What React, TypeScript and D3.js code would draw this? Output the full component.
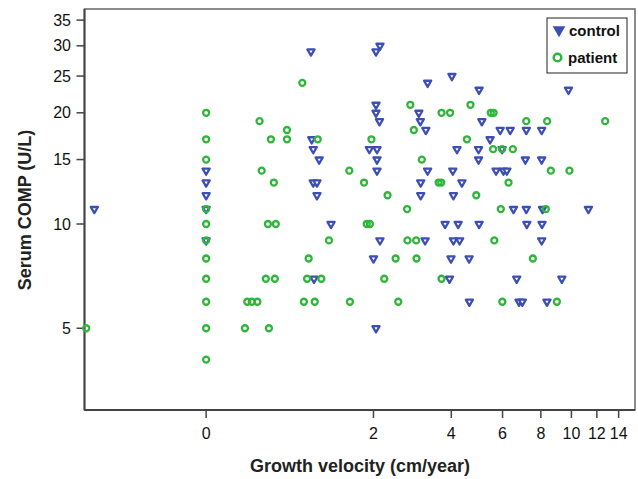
import React, { useEffect } from 'react'
import * as d3 from 'd3'

// growth velocity (cm/year) and serum COMP (U/L)
const controlVelocity = [
  -0.52, 0, 0, 0, 0, 0, 0.99, 1.0, 1.02, 1.1, 1.02, 1.07, 1.07, 1.27, 1.03,
  2.13, 2.05, 3.28, 4.02, 5.0, 2.05, 2.05, 2.12, 3.04, 3.08, 3.23, 1.92, 2.07,
  4.19, 4.98, 2.07, 4.98, 2.07, 3.28, 4.05, 3.09, 4.36, 3.09, 4.07, 9.79, 5.11,
  5.89, 6.36, 7.18, 8.05, 5.45, 5.98, 7.13, 8.05, 5.71, 6.04, 6.2, 6.52, 7.18,
  8.1, 11.3, 3.8, 4.23, 5.0, 7.21, 8.07, 2.13, 3.21, 4.07, 4.28, 8.05, 2.0,
  3.99, 4.62, 3.94, 6.68, 9.33, 4.63, 6.8, 6.97, 8.37, 2.05,
]
const controlComp = [
  11, 14, 13, 12, 11, 9, 29, 17, 16, 15, 13, 13, 12, 10, 7,
  30, 29, 24, 25, 23, 21, 20, 19, 20, 19, 18, 16, 16,
  16, 16, 15, 15, 14, 14, 14, 13, 13, 12, 12, 23, 19,
  18, 18, 18, 18, 17, 16, 15, 15, 14, 14, 14, 11, 11,
  11, 11, 10, 10, 10, 10, 10, 9, 9, 9, 9, 9, 8,
  8, 8, 7, 7, 7, 6, 6, 6, 6, 5,
]

const patientVelocity = [
  -0.545, 0, 0, 0, 0, 0, 0, 0, 0, 0, 0, 0, 0.88, 0.42, 0.7, 0.53, 0.7, 1.08,
  0.44, 0.56, 2.82, 3.69, 3.96, 4.67, 2.91, 1.96, 4.54, 3.12, 1.56, 1.82, 3.6,
  3.68, 2.29, 4.89, 5.48, 5.6, 7.18, 8.38, 12.73, 5.58, 5.98, 6.49, 8.61, 9.86,
  6.28, 0.5, 0.58, 1.24, 0.96, 0.48, 0.57, 0.94, 1.13, 0.31, 0.35, 0.4, 0.9,
  1.04, 0.29, 0.51, 2.74, 1.87, 1.93, 2.75, 2.97, 2.47, 2.98, 2.22, 3.69, 1.57,
  2.53, 5.92, 8.3, 5.63, 7.54, 5.99, 9.0,
]
const patientComp = [
  5, 20, 17, 15, 11, 10, 9, 8, 7, 6, 5, 4, 24, 19, 18, 17, 17, 17,
  14, 13, 21, 20, 20, 21, 18, 17, 17, 15, 14, 13, 13,
  13, 12, 12, 20, 20, 19, 19, 19, 16, 16, 16, 14, 14,
  13, 10, 10, 9, 8, 7, 7, 7, 7, 6, 6, 6, 6,
  6, 5, 5, 11, 10, 10, 9, 9, 8, 8, 7, 7, 6,
  6, 11, 11, 9, 8, 6, 6,
]

const xTicks = [0, 2, 4, 6, 8, 10, 12, 14]
const yTicks = [5, 10, 15, 20, 25, 30, 35]

const blue = '#3d4fb4'
const green = '#2fb53a'
const font = 'Arial, "Liberation Sans", sans-serif'

const App = () => {
  useEffect(() => {
    document.body.style.margin = '0'
  }, [])

  // both axes are log(v + 1)
  const x = d3.scaleLog().domain([0.45, 16.7]).range([84.5, 635])
  const y = d3.scaleLog().domain([3.73, 38.4]).range([410, 9])
  const px = (v: number) => x(v + 1)
  const py = (v: number) => y(v + 1)

  const tri = d3.symbol().type(d3.symbolTriangle).size(22)()
  const legendTri = d3.symbol().type(d3.symbolTriangle).size(70)()

  return (
    <svg width={638} height={479} style={{ display: 'block', background: '#fff' }}>
      {/* frame */}
      <rect x={84.5} y={9} width={550.5} height={401} fill="none" stroke="#666" strokeWidth={1.5} />
      <line x1={84.5} x2={84.5} y1={9} y2={410} stroke="#444" strokeWidth={2} />
      <line x1={84.5} x2={635} y1={410} y2={410} stroke="#444" strokeWidth={2} />

      {/* y axis */}
      {yTicks.map((t) => (
        <g key={t} transform={`translate(0,${py(t)})`}>
          <line x1={76.5} x2={84.5} stroke="#444" strokeWidth={1.5} />
          <text x={71} dy="0.35em" textAnchor="end" fontSize={16} fontFamily={font} fill="#111">
            {t}
          </text>
        </g>
      ))}
      {/* x axis */}
      {xTicks.map((t) => (
        <g key={t} transform={`translate(${px(t)},0)`}>
          <line y1={410} y2={418} stroke="#444" strokeWidth={1.5} />
          <text y={439} textAnchor="middle" fontSize={16} fontFamily={font} fill="#111">
            {t}
          </text>
        </g>
      ))}

      <text
        x={360}
        y={472}
        textAnchor="middle"
        fontSize={18}
        fontWeight="bold"
        fontFamily={font}
        fill="#222"
      >
        Growth velocity (cm/year)
      </text>
      <text
        transform="translate(31,210) rotate(-90)"
        textAnchor="middle"
        fontSize={18}
        fontWeight="bold"
        fontFamily={font}
        fill="#222"
      >
        Serum COMP (U/L)
      </text>

      {/* control */}
      <g>
        {controlVelocity.map((v, i) => (
          <path
            key={i}
            d={tri || ''}
            transform={`translate(${px(v)},${py(controlComp[i])}) rotate(180)`}
            fill="#fff"
            stroke={blue}
            strokeWidth={2.3}
            strokeLinejoin="round"
          />
        ))}
      </g>
      {/* patient */}
      <g>
        {patientVelocity.map((v, i) => (
          <circle
            key={i}
            cx={px(v)}
            cy={py(patientComp[i])}
            r={3}
            fill="none"
            stroke={green}
            strokeWidth={2.3}
          />
        ))}
      </g>

      {/* legend */}
      <g>
        <rect x={547} y={18} width={80} height={55} fill="#fff" stroke="#222" strokeWidth={1} />
        <path d={legendTri || ''} transform="translate(559,30) rotate(180)" fill={blue} />
        <text x={569} y={36} fontSize={15} fontWeight="bold" fontFamily={font} fill="#111">
          control
        </text>
        <circle cx={557.5} cy={57.5} r={3.8} fill="none" stroke={green} strokeWidth={2.5} />
        <text x={568} y={63} fontSize={15} fontWeight="bold" fontFamily={font} fill="#111">
          patient
        </text>
      </g>
    </svg>
  )
}

export default App
